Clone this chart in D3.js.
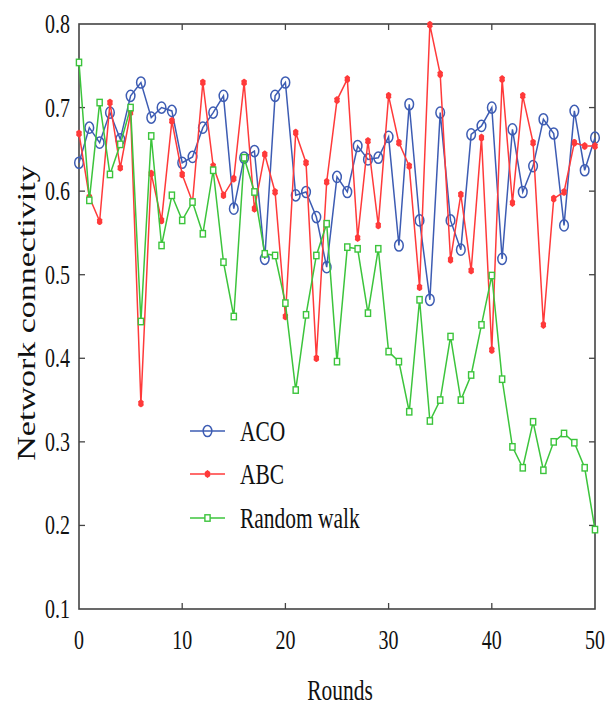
<!DOCTYPE html>
<html>
<head>
<meta charset="utf-8">
<script src="https://cdn.jsdelivr.net/npm/d3@7"></script>
<style>
html,body{margin:0;padding:0;background:#fff;}
svg{display:block;}
</style>
</head>
<body>
<svg id="chart" width="614" height="707"></svg>
<script>
const rounds = d3.range(0, 51);
const aco = [0.634,0.676,0.658,0.694,0.662,0.714,0.730,0.688,0.700,0.696,
  0.634,0.641,0.676,0.694,0.714,0.579,0.640,0.648,0.519,0.714,
  0.730,0.595,0.599,0.569,0.509,0.617,0.599,0.654,0.638,0.640,
  0.665,0.535,0.704,0.565,0.470,0.694,0.565,0.530,0.668,0.678,
  0.700,0.519,0.674,0.599,0.630,0.686,0.669,0.559,0.696,0.625,0.664];
const abc = [0.669,0.593,0.564,0.706,0.628,0.694,0.346,0.621,0.565,0.684,
  0.620,0.587,0.730,0.630,0.595,0.615,0.730,0.579,0.644,0.599,
  0.450,0.670,0.634,0.400,0.611,0.709,0.734,0.544,0.660,0.559,
  0.714,0.658,0.630,0.485,0.799,0.740,0.518,0.596,0.505,0.664,
  0.410,0.734,0.586,0.714,0.658,0.440,0.591,0.599,0.658,0.654,0.654];
const randomWalk = [0.754,0.589,0.706,0.620,0.656,0.700,0.444,0.666,0.535,0.595,
  0.565,0.587,0.549,0.625,0.515,0.450,0.640,0.599,0.525,0.523,
  0.466,0.362,0.452,0.523,0.561,0.396,0.533,0.531,0.454,0.531,
  0.408,0.396,0.336,0.470,0.325,0.350,0.426,0.350,0.380,0.440,
  0.499,0.375,0.294,0.269,0.324,0.266,0.300,0.310,0.299,0.269,0.195];
const seriesNames = ["ACO", "ABC", "Random walk"];
const xTicks = [0, 10, 20, 30, 40, 50];
const yTicks = [0.1, 0.2, 0.3, 0.4, 0.5, 0.6, 0.7, 0.8];
const xLabel = "Rounds";
const yLabel = "Network connectivity";

const colors = {"ACO": "#3d5cb3", "ABC": "#ff3a3a", "Random walk": "#3cc43c"};
const SX = 0.74; // horizontal condensing of the reference typography
const FONT = "'Liberation Serif','Times New Roman',serif";

const svg = d3.select("#chart");
const L = 79, R = 595, T = 24, B = 609;
const x = d3.scaleLinear().domain([0, 50]).range([L, R]);
const y = d3.scaleLinear().domain([0.1, 0.8]).range([B, T]);

function ctext(g, px, py, str, size, anchor, rot) {
  const t = g.append("g").attr("transform", `translate(${px},${py}) scale(${SX},1)` + (rot ? ` rotate(${rot})` : ""))
    .append("text").text(str)
    .attr("font-family", FONT).attr("font-size", size)
    .attr("text-anchor", anchor).attr("fill", "#111");
  return t;
}

// axes
const axisColor = "#444";
const gAx = svg.append("g");
gAx.append("rect").attr("x", L).attr("y", T).attr("width", R - L).attr("height", B - T)
  .attr("fill", "none").attr("stroke", axisColor).attr("stroke-width", 1.6);

const tickLen = 6;
xTicks.forEach(v => {
  if (v > 0 && v < 50) {
    gAx.append("line").attr("x1", x(v)).attr("x2", x(v)).attr("y1", B).attr("y2", B - tickLen)
      .attr("stroke", axisColor).attr("stroke-width", 1.3);
    gAx.append("line").attr("x1", x(v)).attr("x2", x(v)).attr("y1", T).attr("y2", T + tickLen)
      .attr("stroke", axisColor).attr("stroke-width", 1.3);
  }
  ctext(gAx, x(v), 649, String(v), 27, "middle");
});
yTicks.forEach(v => {
  if (v > 0.1 && v < 0.8) {
    gAx.append("line").attr("x1", L).attr("x2", L + tickLen).attr("y1", y(v)).attr("y2", y(v))
      .attr("stroke", axisColor).attr("stroke-width", 1.3);
    gAx.append("line").attr("x1", R).attr("x2", R - tickLen).attr("y1", y(v)).attr("y2", y(v))
      .attr("stroke", axisColor).attr("stroke-width", 1.3);
  }
  ctext(gAx, 70, y(v) + 9, String(v.toFixed(1)), 27, "end");
});

ctext(svg, 340, 700, xLabel, 29, "middle");
ctext(svg, 35, 313, yLabel, 34, "middle", -90);

// series
const data = [
  {name: "ACO", values: aco},
  {name: "ABC", values: abc},
  {name: "Random walk", values: randomWalk}
];
const line = d3.line().x((d, i) => x(rounds[i])).y(d => y(d));

function drawMarker(g, name, cx, cy) {
  const c = colors[name];
  if (name === "ACO") {
    g.append("ellipse").attr("cx", cx).attr("cy", cy).attr("rx", 4.3).attr("ry", 5.6)
      .attr("fill", "none").attr("stroke", c).attr("stroke-width", 1.5);
  } else if (name === "ABC") {
    g.append("ellipse").attr("cx", cx).attr("cy", cy).attr("rx", 2.6).attr("ry", 3.6).attr("fill", c);
    g.append("path").attr("transform", `translate(${cx},${cy}) scale(0.8,1)`)
      .attr("d", d3.symbol().type(d3.symbolAsterisk).size(40)()).attr("stroke", c).attr("stroke-width", 1.3).attr("fill", "none");
  } else {
    g.append("rect").attr("x", cx - 2.6).attr("y", cy - 3.2).attr("width", 5.2).attr("height", 6.4)
      .attr("fill", "#fff").attr("stroke", c).attr("stroke-width", 1.4);
  }
}

data.forEach(s => {
  const g = svg.append("g");
  g.append("path").attr("d", line(s.values)).attr("fill", "none")
    .attr("stroke", colors[s.name]).attr("stroke-width", 1.5);
  s.values.forEach((v, i) => drawMarker(g, s.name, x(rounds[i]), y(v)));
});

// legend
const lg = svg.append("g");
const legY = [431, 474, 518];
seriesNames.forEach((n, i) => {
  lg.append("line").attr("x1", 190).attr("x2", 225).attr("y1", legY[i]).attr("y2", legY[i])
    .attr("stroke", colors[n]).attr("stroke-width", 1.6);
  drawMarker(lg, n, 207.5, legY[i]);
  ctext(lg, 240, legY[i] + 10, n, 29, "start");
});
</script>
</body>
</html>
